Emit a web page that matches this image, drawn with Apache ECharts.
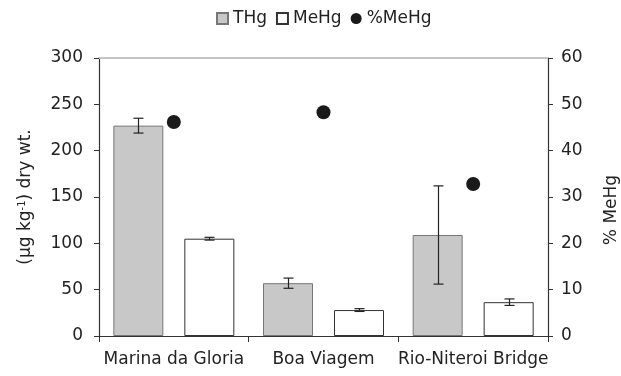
<!DOCTYPE html>
<html>
<head>
<meta charset="utf-8">
<script src="https://cdn.jsdelivr.net/npm/echarts@6/dist/echarts.min.js"></script>
<style>html,body{margin:0;padding:0;background:#fff}#c{width:621px;height:376px}</style>
</head>
<body>
<div id="c"></div>
<script>
const categories = ['Marina da Gloria', 'Boa Viagem', 'Rio-Niteroi Bridge'];
const thg = [227, 57, 109];
const thgErr = [8, 5.5, 53];
const mehg = [105, 28, 36.5];
const mehgErr = [1.5, 1.5, 3.5];
const pctMehg = [46.2, 48.3, 32.8];
const leftTicks = { min: 0, max: 300, interval: 50 };
const rightTicks = { min: 0, max: 60, interval: 10 };

const BAR_W = 50, GAP = 0.42;
const OFF = (BAR_W + BAR_W * GAP) / 2;
const FONT = 'DejaVu Sans, Liberation Sans, Arial, sans-serif';
const TXT = '#222';

function errSeries(name, vals, errs, sign) {
  return {
    type: 'custom', name: name, silent: true, z: 5,
    data: vals.map((v, i) => [i, v - errs[i], v + errs[i]]),
    renderItem: function (params, api) {
      const c = api.value(0);
      const lo = api.coord([c, api.value(1)]);
      const hi = api.coord([c, api.value(2)]);
      const x = Math.round(lo[0] + sign * OFF) + 0.5;
      const cap = 5;
      const st = { stroke: '#222', lineWidth: 1.2 };
      return { type: 'group', children: [
        { type: 'line', shape: { x1: x, y1: lo[1], x2: x, y2: hi[1] }, style: st },
        { type: 'line', shape: { x1: x - cap, y1: lo[1], x2: x + cap, y2: lo[1] }, style: st },
        { type: 'line', shape: { x1: x - cap, y1: hi[1], x2: x + cap, y2: hi[1] }, style: st }
      ]};
    }
  };
}

const chart = echarts.init(document.getElementById('c'));
chart.setOption({
  animation: false,
  textStyle: { fontFamily: FONT },
  legend: {
    top: 5, left: 211, itemWidth: 11, itemHeight: 11, itemGap: 9,
    textStyle: { fontSize: 17, color: TXT, fontFamily: FONT },
    data: [
      { name: 'THg', icon: 'rect' },
      { name: 'MeHg', icon: 'rect' },
      { name: '%MeHg', icon: 'circle' }
    ]
  },
  grid: { left: 99, right: 73, top: 58, bottom: 40, outerBoundsMode: 'none', containLabel: false },
  xAxis: [
    {
      type: 'category', data: categories,
      axisLine: { lineStyle: { color: '#333', width: 1.2 } },
      axisTick: { show: true, length: 6, lineStyle: { color: '#333' } },
      axisLabel: { interval: 0, fontSize: 17, color: TXT, margin: 15, fontFamily: FONT }
    },
    {
      type: 'category', data: categories, position: 'top',
      axisLine: { show: true, onZero: false, lineStyle: { color: '#c4c4c4', width: 2 } },
      axisTick: { show: false }, axisLabel: { show: false }
    }
  ],
  yAxis: [
    {
      type: 'value', min: leftTicks.min, max: leftTicks.max, interval: leftTicks.interval,
      name: '{a|(µg kg}{s|-1}{a|) dry wt.}', nameLocation: 'middle', nameGap: 64, nameRotate: 90,
      nameTextStyle: { rich: { a: { fontSize: 17, color: TXT, fontFamily: FONT }, s: { fontSize: 10, color: TXT, verticalAlign: 'top', padding: [0, 0, 8, 0], fontFamily: FONT } } },
      axisLine: { show: true, lineStyle: { color: '#333', width: 1.2 } },
      axisTick: { show: true, length: 5, lineStyle: { color: '#333' } },
      axisLabel: { fontSize: 17, color: TXT, margin: 16, fontFamily: FONT },
      splitLine: { show: false }
    },
    {
      type: 'value', min: rightTicks.min, max: rightTicks.max, interval: rightTicks.interval,
      name: '% MeHg', nameLocation: 'middle', nameGap: 55, nameRotate: 90,
      nameTextStyle: { fontSize: 17, color: TXT, fontFamily: FONT, padding: [0, 26, 0, 0] },
      axisLine: { show: true, lineStyle: { color: '#333', width: 1.2 } },
      axisTick: { show: true, length: 5, lineStyle: { color: '#333' } },
      axisLabel: { fontSize: 17, color: TXT, margin: 13, fontFamily: FONT },
      splitLine: { show: false }
    }
  ],
  series: [
    {
      name: 'THg', type: 'bar', data: thg, barWidth: BAR_W, barGap: (GAP * 100) + '%',
      itemStyle: { color: '#c8c8c8', borderColor: '#777', borderWidth: 1 }
    },
    {
      name: 'MeHg', type: 'bar', data: mehg, barWidth: BAR_W,
      itemStyle: { color: '#ffffff', borderColor: '#333', borderWidth: 1 }
    },
    errSeries('THg err', thg, thgErr, -1),
    errSeries('MeHg err', mehg, mehgErr, 1),
    {
      name: '%MeHg', type: 'scatter', yAxisIndex: 1, data: pctMehg, symbol: 'circle', symbolSize: 14, z: 6,
      itemStyle: { color: '#1a1a1a', opacity: 1 }
    }
  ]
});
</script>
</body>
</html>
